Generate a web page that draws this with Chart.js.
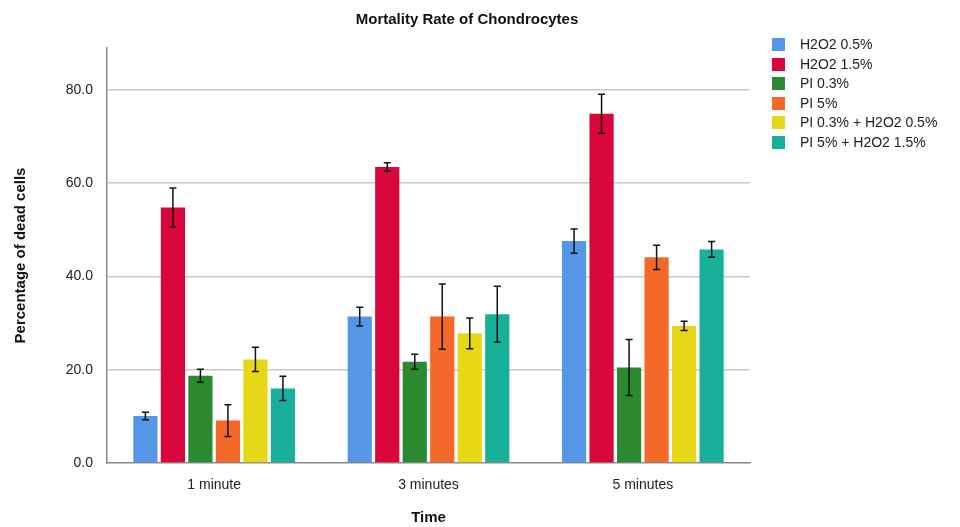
<!DOCTYPE html>
<html>
<head>
<meta charset="utf-8">
<script src="https://cdn.jsdelivr.net/npm/chart.js@4"></script>
<style>
  body { margin: 0; background: #fff; font-family: "Liberation Sans", Arial, sans-serif; }
  #wrap { position: relative; width: 960px; height: 527px; }
  #legend { position: absolute; left: 772px; top: 35px; font-size: 14px; color: #222; }
  #legend div { height: 19.5px; line-height: 19.5px; white-space: nowrap; }
  #legend span { display: inline-block; width: 13px; height: 13px; margin-right: 15px; vertical-align: -2px; }
</style>
</head>
<body>
<div id="wrap">
  <canvas id="myChart" width="960" height="527"></canvas>
  <div id="legend"></div>
</div>
<script>
// data
const categories = ["1 minute", "3 minutes", "5 minutes"];
const seriesNames = ["H2O2 0.5%", "H2O2 1.5%", "PI 0.3%", "PI 5%", "PI 0.3% + H2O2 0.5%", "PI 5% + H2O2 1.5%"];
const seriesColors = ["#5596e6", "#d8063c", "#2b8a2e", "#f4692a", "#e6d816", "#19b09b"];

const h2o2_05 = [10.1, 31.4, 47.6];
const h2o2_15 = [54.8, 63.5, 74.9];
const pi_03 = [18.7, 21.7, 20.5];
const pi_5 = [9.1, 31.4, 44.1];
const pi03_h2o2 = [22.2, 27.8, 29.4];
const pi5_h2o2 = [16.0, 31.9, 45.8];

// error bar half-widths
const h2o2_05_err = [0.8, 2.0, 2.6];
const h2o2_15_err = [4.2, 0.9, 4.2];
const pi_03_err = [1.4, 1.6, 6.0];
const pi_5_err = [3.4, 7.0, 2.6];
const pi03_h2o2_err = [2.6, 3.3, 1.0];
const pi5_h2o2_err = [2.6, 6.0, 1.7];

const yTicks = [0, 20, 40, 60, 80];

const values = [h2o2_05, h2o2_15, pi_03, pi_5, pi03_h2o2, pi5_h2o2];
const errors = [h2o2_05_err, h2o2_15_err, pi_03_err, pi_5_err, pi03_h2o2_err, pi5_h2o2_err];

const legendEl = document.getElementById("legend");
seriesNames.forEach((name, i) => {
  const row = document.createElement("div");
  row.innerHTML = '<span style="background:' + seriesColors[i] + '"></span>' + name;
  legendEl.appendChild(row);
});

// draws the error whiskers from the bar elements and the y scale
const errorBars = {
  id: "errorBars",
  afterDatasetsDraw(chart) {
    const ctx = chart.ctx;
    const y = chart.scales.y;
    ctx.save();
    ctx.strokeStyle = "#111";
    ctx.lineWidth = 1.5;
    chart.data.datasets.forEach((ds, di) => {
      const meta = chart.getDatasetMeta(di);
      meta.data.forEach((bar, i) => {
        const v = ds.data[i];
        const e = ds.errors[i];
        const top = y.getPixelForValue(v + e);
        const bot = y.getPixelForValue(v - e);
        const x = bar.x;
        ctx.beginPath();
        ctx.moveTo(x, top); ctx.lineTo(x, bot);
        ctx.moveTo(x - 3.5, top); ctx.lineTo(x + 3.5, top);
        ctx.moveTo(x - 3.5, bot); ctx.lineTo(x + 3.5, bot);
        ctx.stroke();
      });
    });
    ctx.restore();
  }
};

const ctx = document.getElementById("myChart").getContext("2d");
new Chart(ctx, {
  type: "bar",
  data: {
    labels: categories,
    datasets: seriesNames.map((name, i) => ({
      label: name,
      data: values[i],
      errors: errors[i],
      backgroundColor: seriesColors[i],
      borderWidth: 0,
      categoryPercentage: 0.77,
      barPercentage: 0.88,
    })),
  },
  options: {
    responsive: false,
    animation: false,
    layout: { padding: { left: 0, right: 26, top: 0, bottom: 0 } },
    plugins: {
      legend: { display: false },
      tooltip: { enabled: false },
      title: {
        display: true,
        text: "Mortality Rate of Chondrocytes",
        color: "#111",
        font: { family: "Liberation Sans", size: 15, weight: "bold" },
        padding: { top: 11, bottom: 19 },
      },
    },
    scales: {
      x: {
        grid: { display: false, drawTicks: false },
        border: { color: "#8a8a8a", width: 1.5 },
        ticks: { color: "#222", font: { family: "Liberation Sans", size: 14 }, padding: 14 },
        title: {
          display: true,
          text: "Time",
          color: "#111",
          font: { family: "Liberation Sans", size: 15, weight: "bold" },
          padding: { top: 0, bottom: 0 },
        },
        afterFit(scale) { scale.height = 64; },
      },
      y: {
        min: 0,
        max: 89,
        afterBuildTicks(scale) { scale.ticks = yTicks.map((v) => ({ value: v })); },
        grid: {
          drawTicks: false,
          color: (c) => (c.tick.value === 0 ? "rgba(0,0,0,0)" : "#c9c9c9"),
          lineWidth: 1.5,
        },
        border: { color: "#8a8a8a", width: 1.5 },
        ticks: {
          color: "#222",
          font: { family: "Liberation Sans", size: 14 },
          padding: 14,
          callback: (v) => Number(v).toFixed(1),
        },
        title: {
          display: true,
          text: "Percentage of dead cells",
          color: "#111",
          font: { family: "Liberation Sans", size: 15, weight: "bold" },
          padding: { top: 12 },
        },
        afterFit(scale) { scale.width = 107; },
      },
      // empty right-hand strip that leaves room for the legend
      side: {
        position: "right",
        grid: { display: false, drawTicks: false },
        border: { display: false },
        ticks: { display: false },
        afterFit(scale) { scale.width = 184; },
      },
    },
  },
  plugins: [errorBars],
});
</script>
</body>
</html>
